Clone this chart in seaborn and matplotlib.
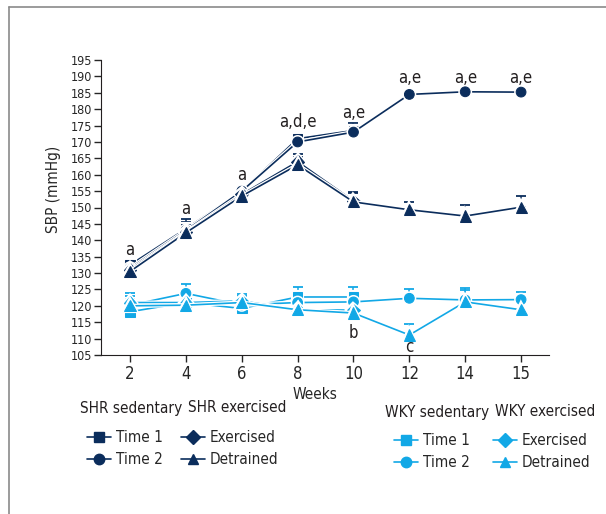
import numpy as np
import pandas as pd
import matplotlib
matplotlib.use("Agg")
import matplotlib.pyplot as plt
import matplotlib.patheffects as pe
from matplotlib.lines import Line2D
import seaborn as sns

DARK = "#0b2d5c"
LIGHT = "#12a8e6"

weeks = ["2", "4", "6", "8", "10", "12", "14", "15"]

shr_time1 = [132.5, 143.5, 155.0, 171.0, 173.5]
shr_time2 = [131.5, 143.0, 155.0, 170.0, 173.0, 184.5, 185.3, 185.2]
shr_exer = [131.0, 142.5, 154.0, 164.0, 152.0]
shr_detr = [130.5, 142.3, 153.5, 163.0, 151.7, 149.3, 147.4, 150.1]
shr_time1_err = [1.0, 3.0, 2.0, 1.5, 2.2]
shr_time2_err = [1.0, 2.5, 1.5, 1.5, 1.5, 1.0, 1.0, 1.0]
shr_exer_err = [1.0, 2.0, 1.5, 2.2, 2.5]
shr_detr_err = [1.0, 2.0, 2.0, 2.4, 3.0, 2.5, 3.4, 3.4]

wky_time1 = [118.2, 121.0, 119.2, 122.7, 122.7]
wky_time2 = [120.2, 123.8, 120.3, 121.0, 121.2, 122.3, 121.8, 121.9]
wky_exer = [121.0, 121.0, 121.5, 118.8, 118.7]
wky_detr = [120.0, 120.2, 121.0, 118.8, 117.8, 111.1, 121.2, 118.8]
wky_time1_err = [3.5, 2.5, 2.0, 3.0, 3.0]
wky_time2_err = [3.8, 2.8, 2.7, 2.5, 2.5, 2.7, 3.5, 2.2]
wky_exer_err = [2.0, 2.0, 2.0, 2.5, 2.5]
wky_detr_err = [2.0, 2.5, 2.0, 2.5, 2.5, 3.4, 3.5, 2.0]

# significance letters: (week index, y, text)
notes = [(0, 137.0, "a"), (1, 149.5, "a"), (2, 160.0, "a"), (3, 176.0, "a,d,e"),
         (4, 178.8, "a,e"), (5, 189.5, "a,e"), (6, 189.5, "a,e"), (7, 189.5, "a,e"),
         (4, 111.7, "b"), (5, 107.4, "c")]

series = [
    (shr_time1, shr_time1_err, DARK, "s", 7),
    (shr_time2, shr_time2_err, DARK, "o", 7),
    (shr_exer, shr_exer_err, DARK, "D", 6.5),
    (shr_detr, shr_detr_err, DARK, "^", 8),
    (wky_time1, wky_time1_err, LIGHT, "s", 7),
    (wky_time2, wky_time2_err, LIGHT, "o", 7),
    (wky_exer, wky_exer_err, LIGHT, "D", 6.5),
    (wky_detr, wky_detr_err, LIGHT, "^", 8),
]

sns.set_style("ticks")
plt.rcParams["font.family"] = ["DejaVu Sans"]
plt.rcParams["font.stretch"] = "condensed"

fig = plt.figure(figsize=(6.06, 5.14), dpi=100)
ax = fig.add_axes([101 / 606, 1 - 355 / 514, 448 / 606, 295 / 514])

halo = [pe.Stroke(linewidth=3.0, foreground="white"), pe.Normal()]
for vals, err, col, mk, ms in series:
    x = np.arange(len(vals))
    ax.errorbar(x, vals, yerr=[np.zeros(len(err)), err], fmt="none",
                ecolor=col, elinewidth=1.1, capsize=3.5, capthick=1.3, zorder=2)
    df = pd.DataFrame({"x": x, "y": vals})
    sns.lineplot(data=df, x="x", y="y", ax=ax, color=col, marker=mk,
                 markersize=ms, markeredgecolor=col, linewidth=1.2, zorder=3)
    ax.lines[-1].set_path_effects(halo)

for xi, yv, txt in notes:
    ax.text(xi, yv, txt, ha="center", va="center", fontsize=12, color="#231f20")

ax.set_xlim(-0.52, 7.5)
ax.set_ylim(105, 195)
ax.set_xticks(range(len(weeks)))
ax.set_xticklabels(weeks, fontsize=12)
ax.set_yticks(np.arange(105, 196, 5))
ax.tick_params(axis="y", labelsize=9, length=5, width=1, pad=1.5)
ax.tick_params(axis="x", length=5, width=1, pad=2)
for s in ["top", "right"]:
    ax.spines[s].set_visible(False)
for s in ["left", "bottom"]:
    ax.spines[s].set_color("#231f20")
ax.set_xlabel("Weeks", fontsize=11)
ax.set_ylabel("SBP (mmHg)", fontsize=11)
ax.xaxis.set_label_coords(0.478, -0.11)
ax.yaxis.set_label_coords(-0.09, 0.56)

def handle(col, mk, ms):
    return Line2D([], [], color=col, marker=mk, markersize=ms, linewidth=1.2)

# (title, labels, colour, markers, title x, title y, handle x, rows mid y)
groups = [
    ("SHR sedentary", ["Time 1", "Time 2"], DARK, ["s", "o"], 80, 408, 87, 448.5),
    ("SHR exercised", ["Exercised", "Detrained"], DARK, ["D", "^"], 188, 408, 181, 448.5),
    ("WKY sedentary", ["Time 1", "Time 2"], LIGHT, ["s", "o"], 385, 412, 394, 451.5),
    ("WKY exercised", ["Exercised", "Detrained"], LIGHT, ["D", "^"], 495, 412, 493, 451.5),
]
for title, labels, col, mks, tx, ty, hx, hy in groups:
    fig.text(tx / 606, 1 - ty / 514, title, ha="left", va="center",
             fontsize=11, color="#231f20")
    hs = [handle(col, m, 7.5) for m in mks]
    fig.legend(hs, labels, loc="center left",
               bbox_to_anchor=(hx / 606, 1 - hy / 514), frameon=False,
               fontsize=11, handlelength=1.6, handletextpad=0.3,
               labelspacing=0.45, borderpad=0, borderaxespad=0)

# outer frame (left and top edges visible)
fig.add_artist(Line2D([9 / 606, 9 / 606], [0, 1 - 7 / 514], transform=fig.transFigure,
                      color="#8a8a8a", linewidth=1.2))
fig.add_artist(Line2D([9 / 606, 1], [1 - 7 / 514, 1 - 7 / 514], transform=fig.transFigure,
                      color="#8a8a8a", linewidth=1.2))

fig.savefig("out.png", dpi=100)
